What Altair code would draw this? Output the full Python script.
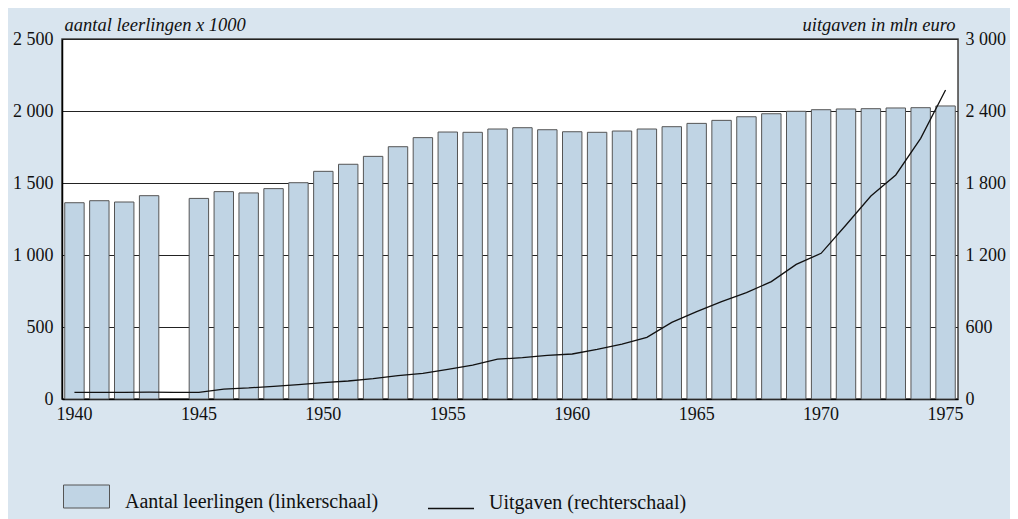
import altair as alt
import pandas as pd

years = list(range(1940, 1976))
leerlingen = [1363, 1377, 1368, 1412, None, 1393, 1440, 1431, 1461, 1502,
              1581, 1630, 1685, 1752, 1815, 1854, 1852, 1875, 1884, 1870,
              1856, 1852, 1861, 1875, 1891, 1914, 1935, 1960, 1981, 1998,
              2009, 2014, 2016, 2021, 2023, 2035]
uitgaven = [55, 56, 56, 57, 56, 56, 83, 92, 106, 120,
            136, 150, 169, 194, 214, 247, 283, 332, 344, 364,
            375, 414, 458, 514, 639, 728, 811, 886, 978, 1122,
            1214, 1450, 1692, 1867, 2172, 2575]
x_labels = [1940, 1945, 1950, 1955, 1960, 1965, 1970, 1975]
left_ticks = [0, 500, 1000, 1500, 2000, 2500]
right_ticks = [0, 600, 1200, 1800, 2400, 3000]

df = pd.DataFrame({"jaar": years, "leerlingen": leerlingen, "uitgaven": uitgaven})

FONT = "Liberation Serif"
FS = 18
TFS = 18.5
LFS = 20
fmt = "replace(format(datum.value, ','), ',', ' ')"

xenc = alt.X("jaar:O", title=None,
             scale=alt.Scale(domain=years, paddingInner=0.22, paddingOuter=0.11),
             axis=alt.Axis(values=x_labels, labelAngle=0, ticks=False,
                           domainColor="#000", domainWidth=1.5, labelPadding=6,
                           labelFont=FONT, labelFontSize=FS, labelColor="#111"))

bars = alt.Chart(df).transform_filter("isValid(datum.leerlingen)").mark_bar(
    stroke="#555", strokeWidth=1
).encode(
    x=xenc,
    y=alt.Y("leerlingen:Q", scale=alt.Scale(domain=[0, 2500], nice=False),
            axis=alt.Axis(values=left_ticks, labelExpr=fmt, ticks=False, grid=True,
                          gridColor="#222", gridWidth=1, domainColor="#000", domainWidth=1.5,
                          labelPadding=9, labelFont=FONT, labelFontSize=FS, labelColor="#111",
                          title="aantal leerlingen x 1000", titleAngle=0, titleAlign="left",
                          titleBaseline="alphabetic", titleX=2, titleY=-9,
                          titleFont=FONT, titleFontSize=TFS, titleFontStyle="italic",
                          titleFontWeight="normal", titleColor="#111")),
    fill=alt.Fill("s:N", scale=alt.Scale(domain=["Aantal leerlingen (linkerschaal)"], range=["#c0d4e4"]),
                  legend=alt.Legend(title=None, orient="none", legendX=1, legendY=445.5,
                                    padding=0, symbolType="M-1,-1H1V0H-1Z", symbolSize=2116,
                                    symbolStrokeColor="#555", symbolStrokeWidth=1,
                                    symbolOpacity=1, labelBaseline="alphabetic", labelOffset=15,
                                    labelFont=FONT, labelFontSize=LFS, labelColor="#111",
                                    labelLimit=400)),
).transform_calculate(s="'Aantal leerlingen (linkerschaal)'")

line = alt.Chart(df).mark_line(strokeWidth=1.3).encode(
    x=alt.X("jaar:O", scale=alt.Scale(domain=years)),
    y=alt.Y("uitgaven:Q", scale=alt.Scale(domain=[0, 3000], nice=False),
            axis=alt.Axis(orient="right", values=right_ticks, labelExpr=fmt, ticks=False,
                          grid=False, domainColor="#666", domainWidth=1, labelPadding=7,
                          labelFont=FONT, labelFontSize=FS, labelColor="#111",
                          title="uitgaven in mln euro", titleAngle=0, titleAlign="right",
                          titleBaseline="alphabetic", titleX=-3, titleY=-9,
                          titleFont=FONT, titleFontSize=TFS, titleFontStyle="italic",
                          titleFontWeight="normal", titleColor="#111")),
    stroke=alt.Stroke("t:N", scale=alt.Scale(domain=["Uitgaven (rechterschaal)"], range=["#111"]),
                      legend=alt.Legend(title=None, orient="none", legendX=365, legendY=445.5,
                                        padding=0, symbolType="M-1,0H1", symbolSize=2116,
                                        symbolStrokeWidth=1.5, symbolFillColor="transparent",
                                        labelBaseline="alphabetic", labelOffset=14,
                                        labelFont=FONT, labelFontSize=LFS, labelColor="#111",
                                        labelLimit=400)),
).transform_calculate(t="'Uitgaven (rechterschaal)'")

chart = alt.layer(bars, line).resolve_scale(
    y="independent", fill="independent", stroke="independent"
).properties(
    width=896, height=360,
    background="#d9e5ef",
    padding={"left": 54, "top": 31, "right": 52, "bottom": 120},
    autosize=alt.AutoSizeParams(type="none"),
).configure_view(
    fill="white", stroke="#444", strokeWidth=1.5
)

chart.save("out.html", embed_options={"renderer": "svg", "actions": False})
